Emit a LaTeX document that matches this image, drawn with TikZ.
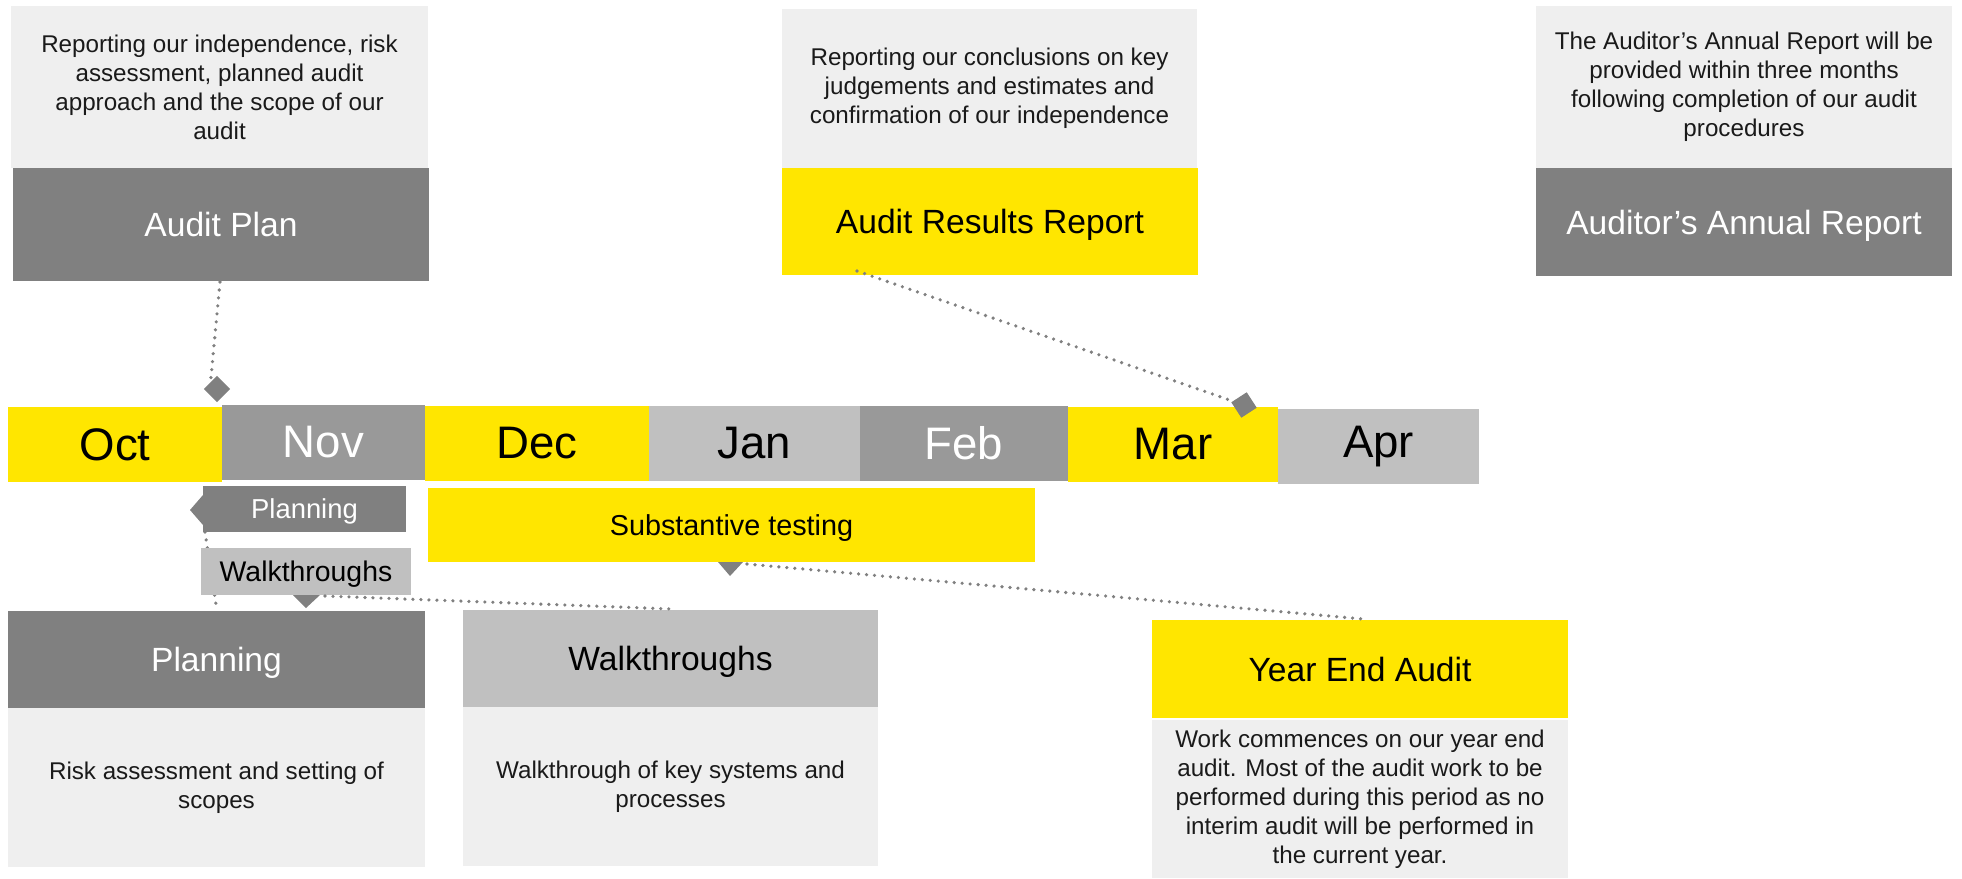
\documentclass[tikz,border=0pt]{standalone}
\usepackage{fontspec}
\setmainfont{Liberation Sans}
\definecolor{eyyellow}{HTML}{FFE600}
\definecolor{dkgray}{HTML}{808080}
\definecolor{mdgray}{HTML}{999999}
\definecolor{ltgray}{HTML}{C0C0C0}
\definecolor{pale}{HTML}{EFEFEF}
\definecolor{ink}{HTML}{1A1A1A}
\begin{document}
\begin{tikzpicture}[x=0.5pt,y=-0.5pt,
 box/.style={inner sep=0pt, outer sep=0pt, align=center, anchor=center},
 body/.style={box, fill=pale, text=ink, font=\fontsize{12.1}{14.5}\selectfont},
 head/.style={box, font=\fontsize{16.8}{19}\selectfont, text depth=0pt},
 month/.style={box, font=\fontsize{22.8}{26}\selectfont, minimum height=37.5pt},
 tag/.style={box, font=\fontsize{14}{16}\selectfont, text depth=0pt},
 dotline/.style={draw=dkgray, line width=1.8pt, line cap=round, dash pattern=on 0pt off 4pt},
 marker/.style={fill=dkgray, inner sep=0pt, outer sep=0pt, minimum size=9.2pt}
]
\useasboundingbox (0,0) rectangle (1962,878);

% ---- top report boxes
\node[body, minimum width=208.5pt, minimum height=81pt] (apt) at (219.5,87)
 {Reporting our independence, risk\\assessment, planned audit\\approach and the scope of our\\audit};
\node[head, fill=dkgray, text=white, minimum width=208pt, minimum height=56.5pt] (ap) at (221,224.5) {Audit Plan};

\node[body, minimum width=207.5pt, minimum height=79.5pt] (arrt) at (989.5,88.5)
 {Reporting our conclusions on key\\judgements and estimates and\\confirmation of our independence};
\node[head, fill=eyyellow, text=black, minimum width=208pt, minimum height=53.5pt] (arr) at (990,221.5) {Audit Results Report};

\node[body, minimum width=208pt, minimum height=81pt] (aart) at (1744,87)
 {The Auditor’s Annual Report will be\\provided within three months\\following completion of our audit\\procedures};
\node[head, fill=dkgray, text=white, minimum width=208pt, minimum height=54pt] (aar) at (1744,222) {Auditor’s Annual Report};

% ---- months
\node[month, fill=eyyellow, text=black, minimum width=107pt] (oct) at (115,444.5) {Oct};
\node[month, fill=mdgray, text=white, minimum width=101.5pt] (nov) at (323.5,442.5) {Nov};
\node[month, fill=eyyellow, text=black, minimum width=112pt] (dec) at (537,443.5) {Dec};
\node[month, fill=ltgray, text=black, minimum width=105.5pt] (jan) at (754.5,443.5) {Jan};
\node[month, fill=mdgray, text=white, minimum width=104pt] (feb) at (964,443.5) {Feb};
\node[month, fill=eyyellow, text=black, minimum width=105pt] (mar) at (1173,444.5) {Mar};
\node[month, fill=ltgray, text=black, minimum width=100.5pt] (apr) at (1378.5,446.5) {Apr};

% ---- connector behind walkthroughs tag
\coordinate (plsb) at (205,532);
\coordinate (plbt) at (217,611);
\draw[dotline] (plsb) -- (plbt);

% ---- phase tags
\node[tag, fill=dkgray, text=white, minimum width=101.5pt, minimum height=23pt, font=\fontsize{13.7}{16}\selectfont] (pls) at (304.5,509) {Planning};
\fill[dkgray] (203,495) -- (190,510) -- (203,525) -- cycle;
\node[tag, fill=ltgray, text=black, minimum width=105pt, minimum height=23.5pt, font=\fontsize{14.2}{16}\selectfont] (wts) at (306,571.5) {Walkthroughs};
\fill[dkgray] (293,595) -- (306,608) -- (320,595) -- cycle;
\node[tag, fill=eyyellow, text=black, minimum width=303.5pt, minimum height=37pt, font=\fontsize{14.4}{16}\selectfont] (sub) at (731.5,525) {Substantive testing};
\fill[dkgray] (718,562) -- (730,576) -- (743,562) -- cycle;

% ---- bottom phase boxes
\node[head, fill=dkgray, text=white, minimum width=208.5pt, minimum height=48.5pt] (plb) at (216.5,659.5) {Planning};
\node[body, minimum width=208.5pt, minimum height=79.5pt] (plbx) at (216.5,787.5)
 {Risk assessment and setting of\\scopes};
\node[head, fill=ltgray, text=black, minimum width=207.5pt, minimum height=48.5pt] (wtb) at (670.5,658.5) {Walkthroughs};
\node[body, minimum width=207.5pt, minimum height=79.5pt] (wtbx) at (670.5,786.5)
 {Walkthrough of key systems and\\processes};
\node[head, fill=eyyellow, text=black, minimum width=208pt, minimum height=49pt] (yea) at (1360,669) {Year End Audit};
\node[body, minimum width=208pt, minimum height=79pt] (yeax) at (1360,799)
 {Work commences on our year end\\audit. Most of the audit work to be\\performed during this period as no\\interim audit will be performed in\\the current year.};

% ---- markers
\node[marker, rotate=45] (d1) at (217,389) {};
\node[marker, rotate=33] (d2) at (1244,405) {};

% ---- connectors
\coordinate (apb) at (220,282);
\draw[dotline] (apb) -- (d1.north);
\coordinate (arrb) at (857,271);
\draw[dotline] (arrb) -- (d2);
\coordinate (wtsb) at (325,596);
\coordinate (wtbt) at (672,609);
\draw[dotline] (wtsb) -- (wtbt);
\coordinate (subb) at (747,564);
\coordinate (yeat) at (1363,619);
\draw[dotline] (subb) -- (yeat);
\end{tikzpicture}
\end{document}
